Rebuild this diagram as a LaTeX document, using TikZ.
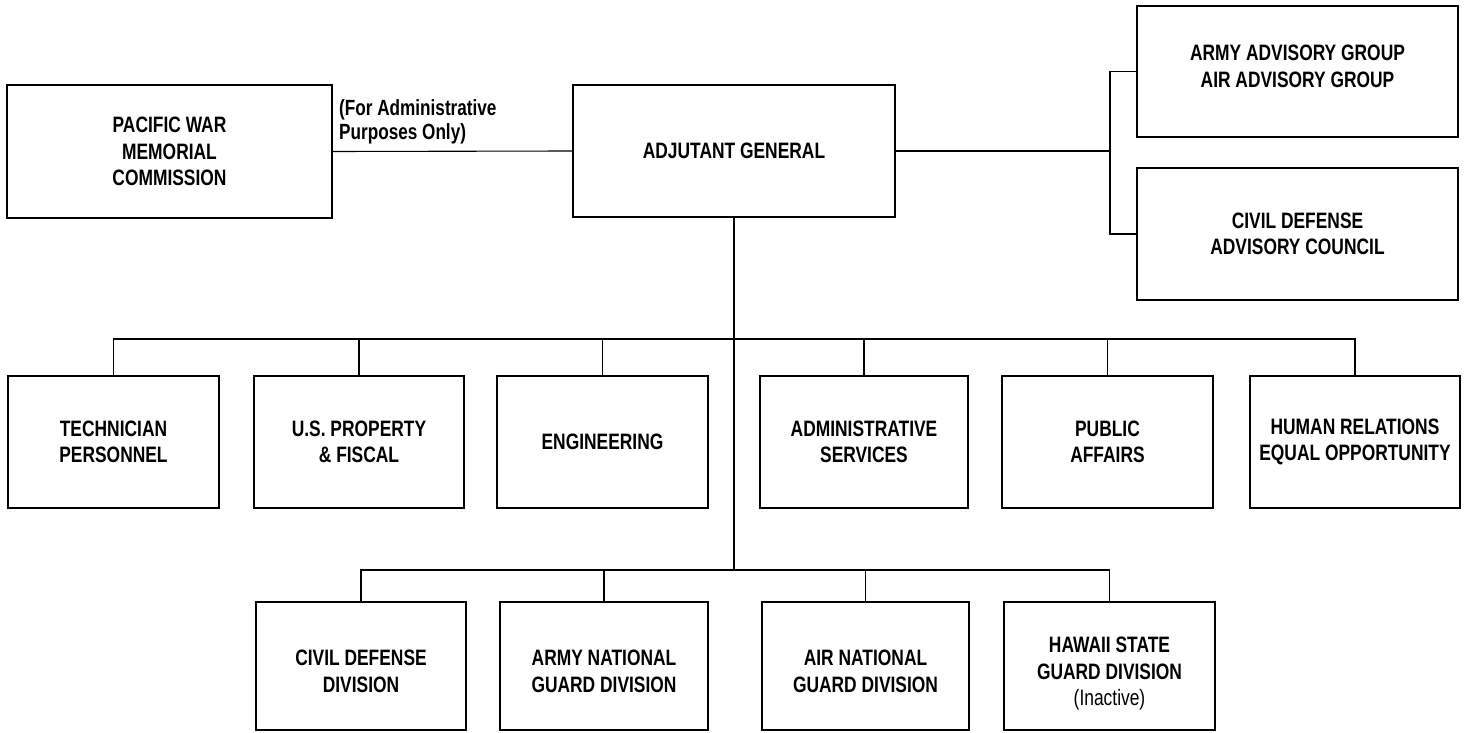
\documentclass[tikz,border=0pt]{standalone}
\usepackage{fontspec}
\setmainfont{Liberation Sans}[FakeStretch=0.78]
\begin{document}
\begin{tikzpicture}[x=1pt,y=-1pt,
  box/.style={draw, line width=1.3pt, align=center, inner sep=0pt,
    font=\fontsize{22.3}{26.5}\selectfont\bfseries},
  conn/.style={line width=1.1pt},
  note/.style={align=left, inner sep=0pt, font=\fontsize{22}{24}\selectfont\bfseries}]
\useasboundingbox (0,0) rectangle (1469,733);
% top row
\node[box, minimum width=325pt, minimum height=133pt] (pwm) at (169.5,151.5) {PACIFIC WAR\\MEMORIAL\\COMMISSION};
\node[box, minimum width=322pt, minimum height=132pt] (ag) at (734,151) {ADJUTANT GENERAL};
\node[box, minimum width=321pt, minimum height=131pt] (aag) at (1297.5,71.5) {ARMY ADVISORY GROUP\\AIR ADVISORY GROUP\\[-16pt]\mbox{}};
\node[box, minimum width=321pt, minimum height=132pt] (cdac) at (1297.5,234) {CIVIL DEFENSE\\ADVISORY COUNCIL};
\node[note, anchor=north west] (lbl) at (339,99) {(For Administrative\\Purposes Only)};
% middle row
\node[box, minimum width=211pt, minimum height=132pt] (tp) at (113.5,442) {TECHNICIAN\\PERSONNEL};
\node[box, minimum width=210pt, minimum height=132pt] (usp) at (359,442) {U.S. PROPERTY\\\& FISCAL};
\node[box, minimum width=211pt, minimum height=132pt] (eng) at (602.5,442) {ENGINEERING};
\node[box, minimum width=208pt, minimum height=132pt] (adm) at (864,442) {ADMINISTRATIVE\\SERVICES};
\node[box, minimum width=211pt, minimum height=132pt] (pa) at (1107.5,442) {PUBLIC\\AFFAIRS};
\node[box, minimum width=210pt, minimum height=132pt] (hr) at (1355,442) {HUMAN RELATIONS\\EQUAL OPPORTUNITY};
% bottom row
\node[box, minimum width=210pt, minimum height=128pt] (cdd) at (361,666) {\mbox{}\\[0pt]CIVIL DEFENSE\\DIVISION};
\node[box, minimum width=208pt, minimum height=128pt] (ang) at (604,666) {\mbox{}\\[0pt]ARMY NATIONAL\\GUARD DIVISION};
\node[box, minimum width=207pt, minimum height=128pt] (air) at (865.5,666) {\mbox{}\\[0pt]AIR NATIONAL\\GUARD DIVISION};
\node[box, minimum width=211pt, minimum height=128pt] (hsg) at (1109.5,666) {\mbox{}\\[5pt]HAWAII STATE\\GUARD DIVISION\\{\mdseries(Inactive)}};
% helper coordinates
\coordinate (bus1) at (0,339);
\coordinate (bus2) at (0,570);
\coordinate (bx) at (1110,0);
% connectors
\draw[conn] (pwm.east) -- (ag.west);
\draw[conn] (ag.east) -- (ag.east -| bx);
\draw[conn] (aag.west) -- (aag.west -| bx) -- (cdac.west -| bx) -- (cdac.west);
\draw[conn] (ag.south) -- (ag.south |- bus2);
\draw[conn] (tp.north) -- (tp.north |- bus1) -- (hr.north |- bus1) -- (hr.north);
\foreach \n in {usp,eng,adm,pa} \draw[conn] (\n.north) -- (\n.north |- bus1);
\draw[conn] (cdd.north) -- (cdd.north |- bus2) -- (hsg.north |- bus2) -- (hsg.north);
\foreach \n in {ang,air} \draw[conn] (\n.north) -- (\n.north |- bus2);
\end{tikzpicture}
\end{document}
